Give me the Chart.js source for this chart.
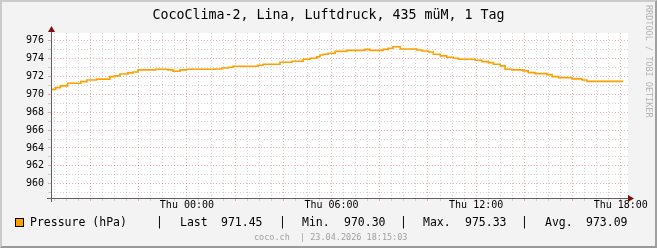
<!DOCTYPE html>
<html>
<head>
<meta charset="utf-8">
<script src="https://cdn.jsdelivr.net/npm/chart.js@4/dist/chart.umd.min.js"></script>
<style>
  body { margin: 0; }
  #wrap { position: relative; width: 657px; height: 248px; background: #F3F3F3; overflow: hidden;
          font-family: "DejaVu Sans Mono", monospace; }
  #chart { position: absolute; left: 0; top: 0; }
  .txt { position: absolute; white-space: pre; }
  #title { left: 0; width: 657px; top: 7px; text-align: center; font-size: 13.3px; line-height: 15px; color: #000; }
  .leg { top: 216px; font-size: 11.5px; line-height: 12px; color: #000; }
  .foot { top: 232px; font-size: 8.5px; line-height: 10px; color: #a0a0a0; }
  #mark { left: 644px; top: 5px; writing-mode: vertical-rl; font-size: 8.5px; line-height: 10px; color: #b4b4b4; }
  #swatch { position: absolute; left: 15px; top: 218px; width: 7px; height: 7px; border: 1px solid #000; background: #FFA000; }
  #frame { position: absolute; left: 0; top: 0; width: 653px; height: 244px;
           border-left: 2px solid #CBCBCB; border-top: 2px solid #CBCBCB;
           border-right: 2px solid #A0A0A0; border-bottom: 2px solid #999999; pointer-events: none; }
</style>
</head>
<body>
<div id="wrap">
  <canvas id="chart" width="657" height="248"></canvas>
  <div id="title" class="txt"></div>
  <div id="swatch"></div>
  <div id="legend"></div>
  <div id="mark" class="txt">RRDTOOL / TOBI OETIKER</div>
  <div id="frame"></div>
</div>
<script>
// hours relative to Thu 00:00
const hours = [-5.64, -5.45, -5.25, -4.95, -4.4, -4.15, -3.75, -3.2, -3.0, -2.78, -2.45, -2.24, -2.03, -1.3,
    -0.79, -0.58, -0.29, -0.01, 1.16, 1.44, 1.72, 1.91, 2.95, 3.16, 3.86, 4.35, 4.82, 5.11, 5.39, 5.52, 5.65,
    5.86, 6.15, 6.63, 7.39, 7.6, 8.14, 8.35, 8.55, 8.85, 9.54, 9.75, 10.02, 10.22, 10.51, 10.78, 11.05, 11.27,
    11.96, 12.24, 12.51, 12.72, 13.0, 13.2, 13.48, 13.95, 14.16, 14.45, 14.94, 15.15, 15.42, 15.98, 16.39,
    16.6, 16.94, 18.1];
const pressure = [970.30, 970.55, 970.75, 970.95, 971.24, 971.42, 971.60, 971.70, 971.98, 972.06, 972.28,
    972.40, 972.50, 972.73, 972.80, 972.73, 972.58, 972.73, 972.80, 972.84, 972.95, 973.03, 973.14, 973.25,
    973.37, 973.59, 973.70, 973.92, 974.03, 974.20, 974.40, 974.48, 974.60, 974.80, 974.92, 975.03, 974.92,
    975.03, 975.15, 975.33, 975.07, 974.96, 974.85, 974.74, 974.48, 974.30, 974.15, 974.03, 973.92, 973.81,
    973.66, 973.55, 973.37, 973.18, 972.80, 972.73, 972.62, 972.43, 972.32, 972.20, 971.98, 971.87, 971.73,
    971.60, 971.45, 971.45];

const xLabelHours = [0, 6, 12, 18];
const xLabelText = ["Thu 00:00", "Thu 06:00", "Thu 12:00", "Thu 18:00"];
const yLabelValues = [960, 962, 964, 966, 968, 970, 972, 974, 976];

const titleText = "CocoClima-2, Lina, Luftdruck, 435 müM, 1 Tag";
const seriesLabel = "Pressure (hPa)";
const statNames = ["Last", "Min.", "Max.", "Avg."];
const statValues = ["971.45", "970.30", "975.33", "973.09"];
const footerSite = "coco.ch";
const footerStamp = "| 23.04.2026 18:15:03";

document.getElementById("title").textContent = titleText;

// legend row, placed like the rrdtool output
const legend = document.getElementById("legend");
function addText(parent, cls, left, text) {
    const el = document.createElement("div");
    el.className = "txt " + cls;
    el.style.left = left + "px";
    el.textContent = text;
    parent.appendChild(el);
}
addText(legend, "leg", 30, seriesLabel);
const sepX = [156, 279, 400, 521];
const nameX = [180, 302, 423, 545];
const valX = [221, 344, 465, 586];
statNames.forEach((name, i) => {
    addText(legend, "leg", sepX[i], "|");
    addText(legend, "leg", nameX[i], name);
    addText(legend, "leg", valX[i], statValues[i]);
});
addText(legend, "foot", 254, footerSite);
addText(legend, "foot", 300, footerStamp);

const MINOR = "rgba(150,150,150,0.4)";
const MAJOR = "rgba(215,60,60,0.4)";
const AXIS = "#606060";
const ARROW = "#7F1010";

const canvasBg = {
    id: "canvasBg",
    beforeDraw(chart) {
        const { ctx, chartArea: a } = chart;
        ctx.save();
        ctx.fillStyle = "#FFFFFF";
        ctx.fillRect(a.left, a.top, a.right - a.left, a.bottom - a.top);
        ctx.restore();
    },
};

const axesArrows = {
    id: "axesArrows",
    afterDraw(chart) {
        const { ctx, chartArea: a } = chart;
        const x0 = Math.round(a.left) + 0.5;
        const y0 = Math.round(a.bottom) + 0.5;
        ctx.save();
        ctx.strokeStyle = AXIS;
        ctx.lineWidth = 1;
        ctx.beginPath();
        ctx.moveTo(a.left - 4, y0);
        ctx.lineTo(a.right + 2, y0);
        ctx.moveTo(x0, a.bottom + 4);
        ctx.lineTo(x0, a.top - 3);
        ctx.stroke();
        ctx.fillStyle = ARROW;
        ctx.beginPath();
        ctx.moveTo(a.right, y0 - 3.5);
        ctx.lineTo(a.right + 6, y0);
        ctx.lineTo(a.right, y0 + 3.5);
        ctx.closePath();
        ctx.fill();
        ctx.beginPath();
        ctx.moveTo(x0 - 3.5, a.top - 1);
        ctx.lineTo(x0, a.top - 7);
        ctx.lineTo(x0 + 3.5, a.top - 1);
        ctx.closePath();
        ctx.fill();
        ctx.restore();
    },
};

const tickFont = { family: "DejaVu Sans Mono", size: 10 };

new Chart(document.getElementById("chart"), {
    type: "line",
    data: {
        datasets: [
            {
                label: seriesLabel,
                data: hours.map((h, i) => ({ x: h, y: pressure[i] })),
                borderColor: "#FFA000",
                borderWidth: 1.6,
                pointRadius: 0,
                stepped: "after",
                fill: false,
            },
        ],
    },
    options: {
        responsive: false,
        animation: false,
        devicePixelRatio: 1,
        layout: { padding: { left: 0, top: 33, right: 29, bottom: 0 } },
        plugins: { legend: { display: false }, title: { display: false }, tooltip: { enabled: false } },
        scales: {
            x: {
                type: "linear",
                min: -5.64,
                max: 18.3,
                afterBuildTicks: (scale) => {
                    const t = [];
                    for (let v = -5.5; v <= 18; v += 0.5) t.push({ value: v });
                    scale.ticks = t;
                },
                afterFit: (scale) => { scale.height = 50; },
                grid: {
                    color: (c) => (c.tick && c.tick.value % 2 === 0 ? MAJOR : MINOR),
                    tickColor: (c) => (c.tick && c.tick.value % 2 === 0 ? MAJOR : MINOR),
                    tickLength: 3,
                    tickBorderDash: [],
                },
                border: { display: false, dash: [1, 2] },
                ticks: {
                    autoSkip: false,
                    maxRotation: 0,
                    padding: -2,
                    color: "#000",
                    font: tickFont,
                    callback: (v) => {
                        const i = xLabelHours.indexOf(v);
                        return i >= 0 ? xLabelText[i] : "";
                    },
                },
            },
            y: {
                type: "linear",
                min: 958.4,
                max: 976.86,
                afterBuildTicks: (scale) => {
                    const t = [];
                    for (let v = 959; v <= 976; v += 1) t.push({ value: v });
                    scale.ticks = t;
                },
                afterFit: (scale) => { scale.width = 51; },
                grid: {
                    color: (c) => (c.tick && c.tick.value % 2 === 0 ? MAJOR : MINOR),
                    tickColor: (c) => (c.tick && c.tick.value % 2 === 0 ? MAJOR : MINOR),
                    tickLength: 3,
                    tickBorderDash: [],
                },
                border: { display: false, dash: [1, 2] },
                ticks: {
                    autoSkip: false,
                    padding: 4,
                    color: "#000",
                    font: tickFont,
                    callback: (v) => (yLabelValues.includes(v) ? String(v) : ""),
                },
            },
        },
    },
    plugins: [canvasBg, axesArrows],
});
</script>
</body>
</html>
